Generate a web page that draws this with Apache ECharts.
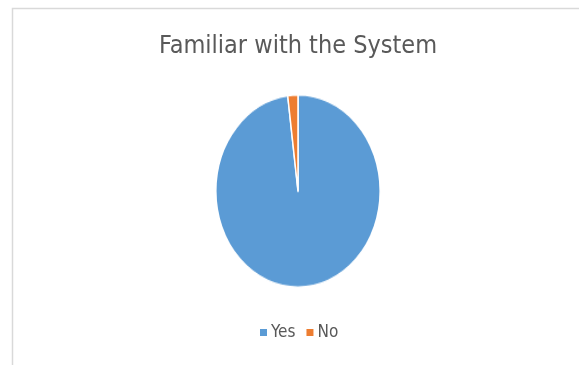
<!DOCTYPE html>
<html>
<head>
<meta charset="utf-8">
<script src="https://cdn.jsdelivr.net/npm/echarts@6/dist/echarts.min.js"></script>
<style>
    html, body { margin: 0; padding: 0; background: #fff; }
    #main { position: absolute; left: 0; top: 0; width: 579px; height: 365px; }
    /* Excel stretched the pie into an ellipse, so the pie gets its own box scaled vertically */
    #pie { position: absolute; left: 215px; top: 108px; width: 166px; height: 166px;
           transform: scaleY(1.17); transform-origin: 50% 50%; }
</style>
</head>
<body>
<div id="main"></div>
<div id="pie"></div>
<script>
const titleText = 'Familiar with the System';
const categories = ['Yes', 'No'];
const values = [98, 2];
const colors = ['#5B9BD5', '#ED7D31'];

const pieData = categories.map((name, i) => ({ name, value: values[i] }));
const fontFamily = "'Liberation Sans Narrow', 'DejaVu Sans Condensed', 'Open Sans', sans-serif";

// frame, title and legend (plot area sits right of the page centre, as in the Excel export)
const mainChart = echarts.init(document.getElementById('main'));
mainChart.setOption({
    backgroundColor: '#fff',
    color: colors,
    animation: false,
    title: {
        text: titleText,
        left: 154,
        top: 29,
        textStyle: {
            color: '#595959',
            fontFamily,
            fontWeight: 'normal',
            fontSize: 25,
        },
    },
    legend: {
        bottom: 19,
        left: 255,
        icon: 'rect',
        itemWidth: 7,
        itemHeight: 7,
        itemGap: 11,
        textStyle: {
            color: '#595959',
            fontFamily,
            fontSize: 17,
            padding: [0, 0, 0, -1],
        },
        data: categories,
    },
    graphic: [{
        type: 'polyline',
        shape: { points: [[12.5, 365], [12.5, 8.5], [579, 8.5]] },
        style: { stroke: '#d9d9d9', lineWidth: 1.5, fill: null },
    }],
    series: [{
        type: 'pie',
        radius: [0, 0],
        silent: true,
        label: { show: false },
        itemStyle: { borderWidth: 0 },
        data: pieData,
    }],
});

// the pie itself
const pieChart = echarts.init(document.getElementById('pie'));
pieChart.setOption({
    color: colors,
    animation: false,
    series: [{
        type: 'pie',
        radius: '99%',
        center: ['50%', '50%'],
        startAngle: 90,
        clockwise: true,
        label: { show: false },
        labelLine: { show: false },
        itemStyle: { borderColor: '#fff', borderWidth: 1.5 },
        data: pieData,
    }],
});
</script>
</body>
</html>
